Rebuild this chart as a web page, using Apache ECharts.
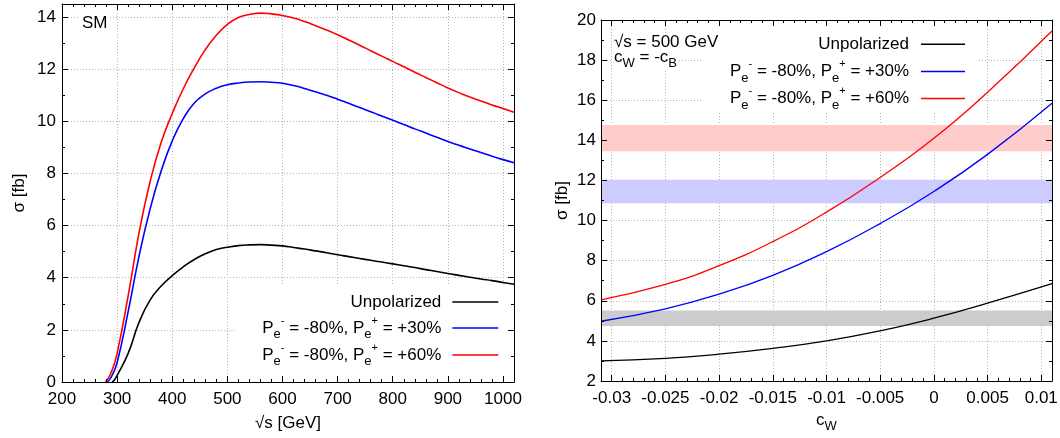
<!DOCTYPE html>
<html><head><meta charset="utf-8">
<script src="https://cdn.jsdelivr.net/npm/echarts@6/dist/echarts.min.js"></script>
<style>html,body{margin:0;padding:0;background:#fff}#c{width:1060px;height:438px}</style>
</head><body><div id="c"></div>
<script>
// ---------- data ----------
// left panel: sigma vs sqrt(s); each curve starts at sigma = 0 at its onset energy
const onsetS    = [291, 282, 279];
const nearS     = [295, 290, 290];      // first reading just above the onset
const nearSigma = [0.08, 0.22, 0.4];
const sqrtS   = [300, 320, 340, 360, 380, 400, 420, 440, 460, 480, 500, 520, 540, 560, 580, 600, 620, 640, 660, 680,
                 700, 720, 740, 760, 780, 800, 820, 840, 860, 880, 900, 920, 940, 960, 980, 1000, 1020];
const smUnpol = [0.25, 1.1, 2.3, 3.15, 3.68, 4.08, 4.42, 4.7, 4.92, 5.08, 5.17, 5.23, 5.26, 5.27, 5.25, 5.22, 5.16, 5.1, 5.03, 4.96,
                 4.88, 4.81, 4.74, 4.67, 4.6, 4.53, 4.46, 4.39, 4.31, 4.24, 4.16, 4.09, 4.02, 3.95, 3.89, 3.82, 3.75];
const smP30   = [0.75, 2.7, 4.85, 6.65, 8.1, 9.25, 10.1, 10.7, 11.05, 11.27, 11.4, 11.47, 11.51, 11.52, 11.5, 11.46, 11.37, 11.26, 11.13, 11.0,
                 10.85, 10.69, 10.53, 10.37, 10.2, 10.04, 9.88, 9.71, 9.55, 9.39, 9.23, 9.08, 8.94, 8.8, 8.66, 8.53, 8.41];
const smP60   = [1.1, 3.3, 5.75, 7.7, 9.2, 10.3, 11.25, 12.05, 12.75, 13.3, 13.72, 13.98, 14.1, 14.15, 14.12, 14.06, 13.96, 13.83, 13.67, 13.5,
                 13.32, 13.12, 12.92, 12.71, 12.5, 12.3, 12.09, 11.88, 11.68, 11.48, 11.28, 11.1, 10.93, 10.78, 10.63, 10.49, 10.35];

// right panel: sigma vs c_W at sqrt(s) = 500 GeV
const cW      = [-0.031, -0.025, -0.02, -0.015, -0.01, -0.005, 0, 0.005, 0.011];
const cwUnpol = [3.0, 3.13, 3.34, 3.63, 4.0, 4.5, 5.13, 5.88, 6.85];
const cwP30   = [4.98, 5.6, 6.33, 7.27, 8.45, 9.85, 11.45, 13.3, 15.85];
const cwP60   = [6.05, 6.82, 7.75, 8.95, 10.42, 12.15, 14.1, 16.4, 19.45];

const bandLow  = [13.45, 10.86, 4.74];
const bandHigh = [14.77, 12.03, 5.52];

const seriesNames = ['Unpolarized', 'P30', 'P60'];
const legendTexts = ['{m|Unpolarized}',
  '{m|P}{sub|e}{sup|-}{m| = -80%, P}{sub|e}{sup|+}{m| = +30%}',
  '{m|P}{sub|e}{sup|-}{m| = -80%, P}{sub|e}{sup|+}{m| = +60%}'];
// ---------------------------------------------------

const FONT = 'Liberation Sans, Arial, sans-serif';
const lineColors = ['#000000', '#0000ff', '#ff0000'];
const bandColors = ['#ffcccc', '#ccccff', '#cccccc'];
const rich = {
  m:   {fontSize: 17, lineHeight: 26, fontFamily: FONT, color: '#000'},
  sub: {fontSize: 13, lineHeight: 13, verticalAlign: 'bottom', fontFamily: FONT, color: '#000'},
  sup: {fontSize: 11, lineHeight: 23, verticalAlign: 'top', fontFamily: FONT, color: '#000'}
};

function isMult(v, step) { return Math.abs(v / step - Math.round(v / step)) < 1e-6; }

function axisSet(dim, gi, o) {
  const common = {type: 'value', gridIndex: gi, min: o.min, max: o.max, splitNumber: 8, silent: true};
  const pos = dim === 'x' ? ['bottom', 'top'] : ['left', 'right'];
  const line = {show: true, onZero: false, lineStyle: {color: '#000', width: 1}};
  const noLine = {show: false, onZero: false};
  const none = {show: false};
  const tick = (len) => ({show: true, inside: true, length: len, lineStyle: {color: '#000', width: 1}});
  return [
    Object.assign({}, common, {position: pos[0], minInterval: o.major, maxInterval: o.major, z: 3,
      axisLine: line, axisTick: tick(6), minorTick: none, splitLine: none,
      axisLabel: {show: true, margin: o.margin, color: '#000', fontSize: 17, fontFamily: FONT, formatter: o.fmt},
      name: o.name, nameLocation: 'middle', nameGap: o.nameGap,
      nameTextStyle: Object.assign({fontSize: 17, fontFamily: FONT, color: '#000'}, o.nameStyle || {})}),
    Object.assign({}, common, {position: pos[0], minInterval: o.minor, maxInterval: o.minor, z: 3,
      axisLine: noLine, axisTick: tick(3), minorTick: none, splitLine: none, axisLabel: none}),
    Object.assign({}, common, {position: pos[1], minInterval: o.major, maxInterval: o.major, z: 3,
      axisLine: line, axisTick: tick(6), minorTick: none, splitLine: none, axisLabel: none}),
    Object.assign({}, common, {position: pos[1], minInterval: o.minor, maxInterval: o.minor, z: 3,
      axisLine: noLine, axisTick: tick(3), minorTick: none, splitLine: none, axisLabel: none}),
    Object.assign({}, common, {position: pos[0], minInterval: o.major, maxInterval: o.major, z: 0,
      axisLine: noLine, axisTick: none, minorTick: none, axisLabel: none,
      splitLine: {show: true, lineStyle: {color: '#b4b4b4', width: 1, type: [1, 2]}}})
  ];
}

const xAxes = [].concat(
  axisSet('x', 0, {min: 200, max: 1020, major: 100, minor: 20, margin: 9,
    fmt: v => isMult(v, 100) ? String(Math.round(v)) : '', name: '√s [GeV]', nameGap: 33}),
  axisSet('x', 1, {min: -0.031, max: 0.011, major: 0.005, minor: 0.001, margin: 9,
    fmt: v => isMult(v, 0.005) ? String(+v.toFixed(3)) : '', name: '{m|c}{sub|W}', nameGap: 22,
    nameStyle: {rich: rich}})
);
const yAxes = [].concat(
  axisSet('y', 0, {min: 0, max: 14.5, major: 2, minor: 1, margin: 6,
    fmt: v => isMult(v, 2) ? String(Math.round(v)) : '', name: 'σ [fb]', nameGap: 34}),
  axisSet('y', 1, {min: 2, max: 20, major: 2, minor: 1, margin: 5,
    fmt: v => isMult(v, 2) ? String(Math.round(v)) : '', name: 'σ [fb]', nameGap: 30})
);

function curve(name, pts, color, xi, yi, width) {
  return {type: 'line', name: name, data: pts, xAxisIndex: xi, yAxisIndex: yi,
    showSymbol: false, symbol: 'none', smooth: 0.5,
    lineStyle: {color: color, width: width}, itemStyle: {color: color},
    z: 2, silent: true, emphasis: {disabled: true}};
}

const leftSets = [smUnpol, smP30, smP60];
const rightSets = [cwUnpol, cwP30, cwP60];
const series = [];
leftSets.forEach((ys, i) => {
  const pts = [[onsetS[i], 0], [nearS[i], nearSigma[i]]];
  sqrtS.forEach((x, j) => { if (x > nearS[i]) pts.push([x, ys[j]]); });
  series.push(curve(seriesNames[i], pts, lineColors[i], 0, 0, 1.6));
});
rightSets.forEach((ys, i) => {
  series.push(curve(seriesNames[i], cW.map((x, j) => [x, ys[j]]), lineColors[i], 5, 5, 1.3));
});
series.push({type: 'line', name: 'bands', data: [], xAxisIndex: 5, yAxisIndex: 5, z: 1, silent: true,
  markArea: {silent: true, label: {show: false}, emphasis: {disabled: true},
    data: bandLow.map((lo, i) => [
      {yAxis: lo, itemStyle: {color: bandColors[i], opacity: 1, borderWidth: 0}},
      {yAxis: bandHigh[i]}
    ])}});

function legendFor(i, top, right, width, height, padRight) {
  return {data: [seriesNames[i]], orient: 'vertical', align: 'right', top: top, right: right,
    padding: 0, itemGap: 0, itemWidth: width, itemHeight: height, icon: 'rect', selectedMode: false,
    formatter: () => legendTexts[i],
    textStyle: {fontSize: 17, lineHeight: 26, fontFamily: FONT, color: '#000', padding: [0, padRight, 0, 0], rich: rich}};
}
const legends = [
  legendFor(0, 289, 561.7, 46, 1.6, 6), legendFor(1, 315, 561.7, 46, 1.6, 6), legendFor(2, 342, 561.7, 46, 1.6, 6),
  legendFor(0, 31.3, 95, 44, 1.4, 7), legendFor(1, 58.5, 95, 44, 1.4, 7), legendFor(2, 85.5, 95, 44, 1.4, 7)
];

const option = {
  animation: false,
  backgroundColor: '#fff',
  grid: [
    {left: 62, top: 4, width: 452, height: 378, show: false, containLabel: false, outerBoundsMode: 'none'},
    {left: 601, top: 20, width: 451, height: 361, show: false, containLabel: false, outerBoundsMode: 'none'}
  ],
  xAxis: xAxes,
  yAxis: yAxes,
  legend: legends,
  series: series,
  graphic: {elements: [
    {type: 'rect', shape: {x: 236, y: 285, width: 277, height: 96.5}, style: {fill: '#fff'}, z: 1, silent: true},
    {type: 'rect', shape: {x: 703, y: 21, width: 274, height: 91}, style: {fill: '#fff'}, z: 1, silent: true},
    {type: 'text', x: 80, y: 23, z: 4, silent: true,
      style: {text: 'SM', fontSize: 17, fontFamily: FONT, fill: '#000', verticalAlign: 'middle', align: 'left',
        backgroundColor: '#fff', padding: [0, 2]}},
    {type: 'text', x: 612, y: 57, z: 3, silent: true,
      style: {text: '{m|c}{sub|W}{m| = -c}{sub|B}', rich: rich, verticalAlign: 'middle', align: 'left',
        backgroundColor: '#fff', padding: [0, 2]}},
    {type: 'text', x: 612, y: 42, z: 4, silent: true,
      style: {text: '√s = 500 GeV', fontSize: 17, fontFamily: FONT, fill: '#000', verticalAlign: 'middle', align: 'left',
        backgroundColor: '#fff', padding: [0, 2]}}
  ]}
};
const chart = echarts.init(document.getElementById('c'), null, {renderer: 'canvas'});
chart.setOption(option);
</script></body></html>
